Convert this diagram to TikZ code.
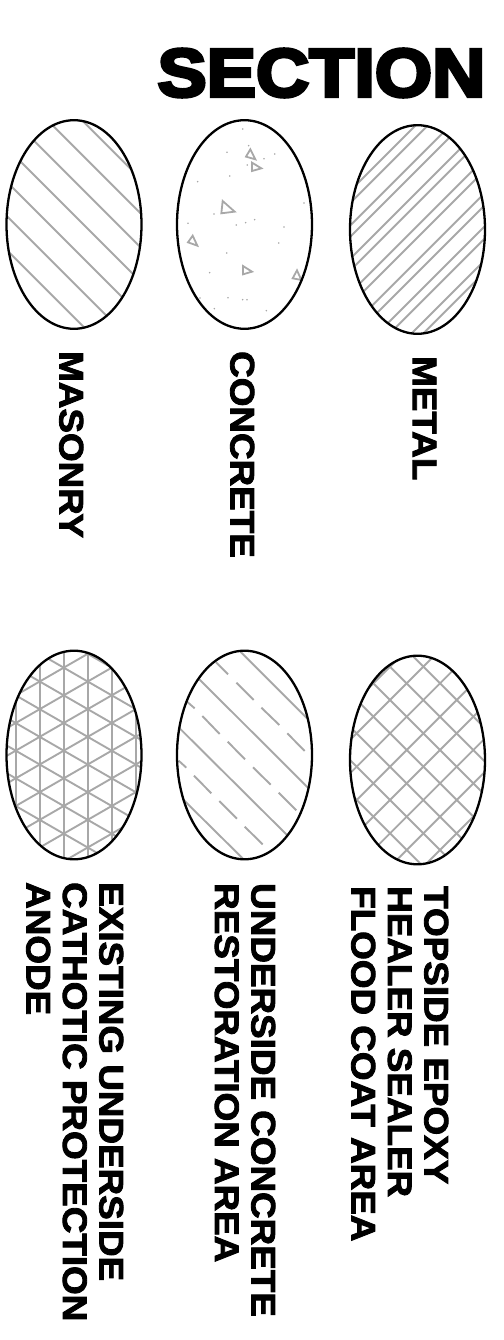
\documentclass[tikz,border=0pt]{standalone}
\usepackage{fontspec}
\setmainfont{Liberation Sans}
\newfontfamily\titlefont[BoldFont={},FakeBold=5,FakeStretch=1.085]{Liberation Sans Bold}
\newfontfamily\labelfont[BoldFont={},FakeBold=2.6,FakeStretch=1.083]{Liberation Sans Bold}
\definecolor{hatch}{RGB}{168,168,168}
\tikzset{
  hatchline/.style={draw=hatch,line width=1.9pt},
  outline/.style={draw=black,line width=2.3pt},
  tri/.style={draw=hatch,line width=1.8pt,line join=miter},
  speck/.style={fill=hatch,draw=none},
  tag/.style={rotate=-90,anchor=north west,inner sep=0pt,align=left,
    font=\labelfont\fontsize{34}{36.5}\selectfont,text=black},
}
\newcommand{\eshape}[2]{(#1,#2) ellipse [x radius=67.5,y radius=104.3]}
\begin{document}
\begin{tikzpicture}[x=1pt,y=-1pt]
\useasboundingbox (0,0) rectangle (503,1340);
\node[inner sep=0pt,anchor=center,font=\titlefont\fontsize{68}{70}\selectfont] (title) at (321.5,73) {SECTION};
% masonry
\begin{scope}
\clip \eshape{74}{224.5};
\begin{scope}[shift={(0,30)},scale=1/3]
\foreach \c in {-25,-128,-230,-333,-435,-538,-640}
  \draw[hatchline] (-100,-100-\c) -- (700,700-\c);
\end{scope}
\end{scope}
\draw[outline] \eshape{74}{224.5};
% concrete
\begin{scope}[shift={(172,115)},scale=1/3]
\draw[tri] (235,103) -- (222,125) -- (250,133) -- cycle;
\draw[tri] (240,143) -- (240,168) -- (268,160) -- cycle;
\draw[tri] (152,258) -- (148,295) -- (188,290) -- cycle;
\draw[tri] (62,362) -- (48,382) -- (76,392) -- cycle;
\draw[tri] (213,453) -- (213,478) -- (240,470) -- cycle;
\draw[tri] (375,466) -- (362,490) -- (388,495) -- cycle;
\foreach \a/\b in {212/42,230/92,165/112,308/117,276/131,226/150,173/183,77/200,396/264,126/297,48/325,193/330,221/323,248/314,336/336,320/384,164/414,113/473,84/549,168/548,212/554,225/554,127/581,283/587}
  \fill[speck] (\a,\b) circle [radius=2.6];
\end{scope}
\draw[outline] \eshape{244.5}{224.5};
% metal
\begin{scope}
\clip \eshape{417.5}{229.5};
\begin{scope}[shift={(345,120)},scale=1/3]
\foreach \s in {228,265,332,366,432,467,535,570,638,675,738,775,840,875}
  \draw[hatchline] (-100,\s+100) -- (\s+100,-100);
\end{scope}
\end{scope}
\draw[outline] \eshape{417.5}{229.5};
% triangular grid
\begin{scope}
\clip \eshape{74}{755};
\begin{scope}[shift={(0,645)},scale=1/3]
\foreach \v in {47,119,191,263,335,407}
  \draw[hatchline] (\v,-20) -- (\v,680);
\foreach \k in {-8,...,8}{
  \draw[hatchline] (-50,317+83*\k+139) -- (500,317+83*\k-178);
  \draw[hatchline] (-50,317+83*\k-139) -- (500,317+83*\k+178);
}
\end{scope}
\end{scope}
\draw[outline] \eshape{74}{755};
% long-short dashed
\begin{scope}
\clip \eshape{244.5}{755};
\begin{scope}[shift={(172,645)},scale=1/3]
\draw[hatchline] (205,20) -- (405,220);
\draw[hatchline] (82,103) -- (408,428);
\draw[hatchline] (20,247) -- (345,570);
\draw[hatchline] (35,465) -- (212,640);
\draw[hatchline] (132,52) -- (168,88);
\draw[hatchline] (193,113) -- (245,165);
\draw[hatchline] (268,188) -- (322,240);
\draw[hatchline] (346,265) -- (398,318);
\draw[hatchline] (45,170) -- (68,190);
\draw[hatchline] (91,213) -- (143,267);
\draw[hatchline] (167,290) -- (219,343);
\draw[hatchline] (243,367) -- (296,419);
\draw[hatchline] (320,443) -- (373,496);
\draw[hatchline] (20,347) -- (43,368);
\draw[hatchline] (66,392) -- (118,445);
\draw[hatchline] (142,468) -- (195,521);
\draw[hatchline] (218,545) -- (272,598);
\end{scope}
\end{scope}
\draw[outline] \eshape{244.5}{755};
% crosshatch
\begin{scope}
\clip \eshape{417.5}{760};
\begin{scope}[shift={(345,650)},scale=1/3]
\foreach \k in {-4,...,3}
  \draw[hatchline] (-100,585+100*\k+100) -- (585+100*\k+100,-100);
\foreach \k in {-3,...,3}
  \draw[hatchline] (-100,15-100*\k) -- (700,815-100*\k);
\end{scope}
\end{scope}
\draw[outline] \eshape{417.5}{760};
% labels
\node[tag] (masonry) at (83.5,351) {MASONRY};
\node[tag] (concrete) at (254.5,351) {CONCRETE};
\node[tag] (metal) at (436.5,356) {METAL};
\node[tag] (epoxy) at (448.5,886) {TOPSIDE EPOXY\\HEALER SEALER\\FLOOD COAT AREA};
\node[tag] (restoration) at (275.5,883) {UNDERSIDE CONCRETE\\RESTORATION AREA};
\node[tag] (anode) at (123.5,882) {EXISTING UNDERSIDE\\CATHOTIC PROTECTION\\ANODE};
\end{tikzpicture}
\end{document}
